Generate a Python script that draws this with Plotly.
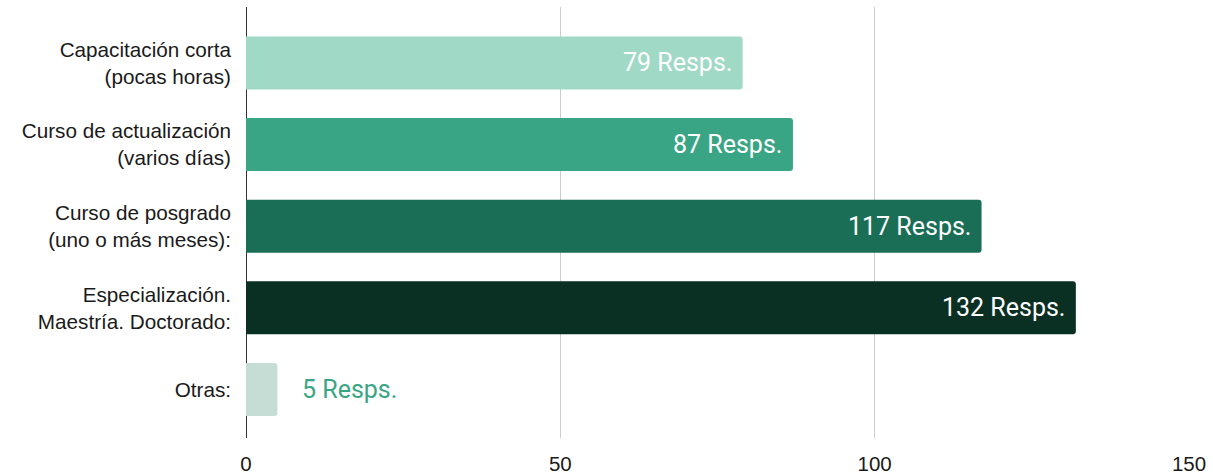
import plotly.graph_objects as go

categories = [
    "Capacitación corta<br>(pocas horas)",
    "Curso de actualización<br>(varios días)",
    "Curso de posgrado<br>(uno o más meses):",
    "Especialización.<br>Maestría. Doctorado:",
    "Otras:",
]
values = [79, 87, 117, 132, 5]
labels = ["79 Resps.", "87 Resps.", "117 Resps.", "132 Resps.", "5 Resps."]
colors = ["#a0d9c6", "#3aa584", "#1a6e56", "#0a3024", "#c5ddd4"]
inside = [True, True, True, True, False]
x_ticks = [0, 50, 100, 150]

fig = go.Figure()
fig.add_trace(go.Bar(
    x=values, y=list(range(len(categories))), orientation="h",
    marker=dict(color=colors, line=dict(width=0)),
    width=0.65, hoverinfo="skip",
))

for i, (v, lab, ins) in enumerate(zip(values, labels, inside)):
    fig.add_annotation(
        x=v, y=i, text=lab, showarrow=False,
        xanchor="right" if ins else "left",
        xshift=-9 if ins else 23,
        font=dict(family="Roboto", size=25, color="#ffffff" if ins else "#3aa584"),
    )

fig.update_layout(
    width=1213, height=476,
    margin=dict(l=246, r=24, t=7, b=38),
    paper_bgcolor="white", plot_bgcolor="white",
    showlegend=False,
    barcornerradius=3,
    font=dict(family="Liberation Sans, Arial", size=20.7, color="#1a1a1a"),
)
fig.update_xaxes(
    range=[0, 150], tickvals=x_ticks, showgrid=True, gridcolor="#cccccc", gridwidth=1,
    zeroline=True, zerolinecolor="#333333", zerolinewidth=1,
    showline=False, ticks="", ticklabelstandoff=11, automargin=False,
    tickfont=dict(family="Liberation Sans, Arial", size=20.5, color="#1a1a1a"),
)
fig.update_yaxes(
    range=[4.595, -0.686], tickvals=list(range(len(categories))), ticktext=categories,
    showgrid=False, zeroline=False, showline=False, ticks="", ticklabelstandoff=14,
    automargin=False,
    tickfont=dict(family="Liberation Sans, Arial", size=20.7, color="#1a1a1a"),
)

fig.write_html("out.html", config={"displayModeBar": False},
               post_script="document.body.style.margin='0';")
